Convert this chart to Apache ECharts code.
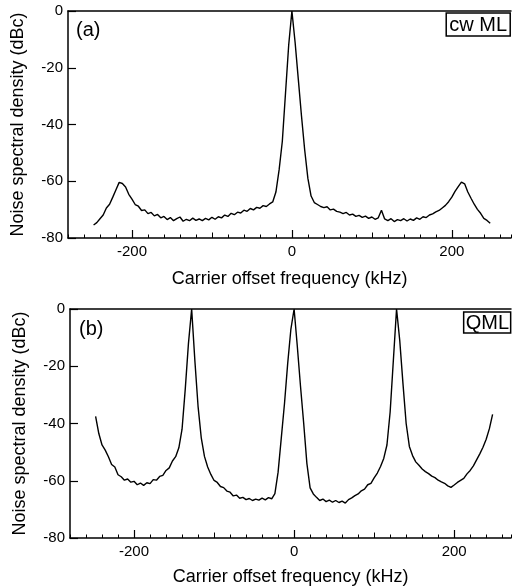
<!DOCTYPE html>
<html>
<head>
<meta charset="utf-8">
<script src="https://cdn.jsdelivr.net/npm/echarts@6/dist/echarts.min.js"></script>
<style>html,body{margin:0;padding:0;background:#fff}#c{width:514px;height:588px}</style>
</head>
<body>
<div id="c"></div>
<script>
// Carrier offset frequency (kHz), shared by both panels
const freq = [-248,-244,-240,-236,-232,-228,-224,-220,-216,-212,-208,-204,-200,-196,-192,-188,-184,-180,-176,-172,-168,-164,-160,-156,-152,-148,-144,-140,-136,-132,-128,-124,-120,-116,-112,-108,-104,-100,-96,-92,-88,-84,-80,-76,-72,-68,-64,-60,-56,-52,-48,-44,-40,-36,-32,-28,-24,-20,-16,-12,-8,-4,0,4,8,12,16,20,24,28,32,36,40,44,48,52,56,60,64,68,72,76,80,84,88,92,96,100,104,108,112,116,120,124,128,132,136,140,144,148,152,156,160,164,168,172,176,180,184,188,192,196,200,204,208,212,216,220,224,228,232,236,240,244,248];
// (a) cw ML noise spectral density (dBc)
const dbA = [-75.4,-74.6,-73.2,-71.9,-69.4,-68.1,-65.6,-63.0,-60.4,-60.8,-62.0,-64.6,-66.3,-68.2,-68.8,-70.3,-70.1,-71.4,-71.0,-72.2,-71.7,-72.9,-72.4,-73.5,-72.8,-73.9,-73.2,-72.6,-74.1,-73.4,-73.9,-73.0,-73.8,-73.3,-73.9,-73.1,-73.6,-72.7,-73.4,-72.5,-72.9,-71.9,-72.4,-71.3,-71.8,-70.9,-71.2,-70.2,-70.6,-69.6,-70.1,-69.2,-69.5,-68.6,-68.9,-68.0,-67.3,-63.8,-56,-46,-29,-12,0,-11,-24,-37,-49,-59,-65.2,-67.5,-68.2,-68.9,-69.3,-69.0,-70.1,-69.8,-70.6,-70.9,-71.4,-71.0,-71.9,-71.6,-72.4,-72.0,-72.7,-72.3,-73.1,-72.6,-73.4,-72.9,-70.2,-73.3,-73.9,-73.2,-74.2,-73.5,-73.9,-73.2,-74.0,-73.3,-73.8,-72.9,-73.4,-72.5,-72.8,-71.9,-71.5,-70.8,-70.3,-69.4,-68.5,-67.2,-65.6,-63.6,-61.9,-60.3,-60.9,-63.8,-66.0,-68.1,-69.9,-71.3,-73.1,-73.8,-74.8];
// (b) QML noise spectral density (dBc)
const dbB = [-37.5,-43.5,-47.5,-49.3,-51.6,-54.3,-55.2,-57.9,-58.6,-59.8,-59.4,-60.5,-60.2,-61.4,-60.8,-61.6,-60.7,-61.0,-59.6,-59.8,-58.5,-58.1,-56.4,-55.5,-53.1,-51.6,-48.5,-42,-28,-12,0,-18,-34,-45,-51.5,-55.2,-57.8,-59.9,-60.6,-62.0,-62.4,-63.6,-64.0,-65.3,-65.0,-66.1,-65.8,-66.6,-66.2,-66.9,-66.4,-66.8,-66.1,-66.7,-65.9,-66.3,-64.5,-57,-45,-33,-19,-7,0,-13,-27,-40,-54,-62.5,-64.6,-65.8,-66.9,-66.4,-67.3,-66.8,-67.5,-66.9,-67.6,-67.1,-67.8,-66.6,-66.0,-65.2,-64.6,-63.5,-62.9,-61.4,-60.9,-59.0,-57.3,-55.0,-52.2,-47.5,-36,-18,0,-11,-26,-40,-48,-51.2,-53.4,-54.6,-55.9,-56.8,-57.5,-58.4,-58.9,-59.8,-60.4,-60.9,-61.8,-62.3,-61.5,-60.6,-59.9,-59.2,-57.6,-56.4,-54.8,-52.7,-50.6,-48.3,-45.5,-41.8,-36.8];
const xLabelValues = [-200, 0, 200];
const xMajorTicks = [-200, 0, 200];
const xMidTicks = [-100, 100];
const yMin = -80, yMax = 0, yStep = 20;
const xMin = -280, xStep = 20;
const panelTags = ['(a)', '(b)'];
const panelNames = ['cw ML', 'QML'];
const xTitle = 'Carrier offset frequency (kHz)';
const yTitle = 'Noise spectral density (dBc)';

const FONT = 'Liberation Sans, Arial, Helvetica, sans-serif';
const black = '#000';
const grids = [
  {left: 68, top: 11, right: 3, height: 227},
  {left: 70, top: 309, right: 3, height: 229}
];
const xMaxes = [274, 271];
const nameGaps = [32, 30];
const xAxis = [], yAxis = [], series = [];
grids.forEach((g, i) => {
  const base = {gridIndex: i, type: 'value', min: xMin, max: xMaxes[i]};
  xAxis.push(Object.assign({}, base, {
    position: 'bottom', interval: xStep,
    axisLine: {show: true, onZero: false, lineStyle: {color: black, width: 1.5}},
    axisTick: {show: true, inside: true, length: 3.5, lineStyle: {color: black, width: 1}},
    axisLabel: {show: true, customValues: xLabelValues, color: black, fontSize: 15, fontFamily: FONT, margin: 6},
    splitLine: {show: false},
    name: xTitle, nameLocation: 'middle', nameGap: nameGaps[i],
    nameTextStyle: {color: black, fontSize: 18, fontFamily: FONT}
  }));
  xAxis.push(Object.assign({}, base, {
    position: 'bottom',
    axisLine: {show: false, onZero: false},
    axisTick: {show: true, inside: true, length: 8, customValues: xMajorTicks, lineStyle: {color: black, width: 1.2}},
    axisLabel: {show: false}, splitLine: {show: false}
  }));
  xAxis.push(Object.assign({}, base, {
    position: 'bottom',
    axisLine: {show: false, onZero: false},
    axisTick: {show: true, inside: true, length: 5.5, customValues: xMidTicks, lineStyle: {color: black, width: 1}},
    axisLabel: {show: false}, splitLine: {show: false}
  }));
  xAxis.push(Object.assign({}, base, {
    position: 'top',
    axisLine: {show: true, onZero: false, lineStyle: {color: black, width: 1.5}},
    axisTick: {show: false}, axisLabel: {show: false}, splitLine: {show: false}
  }));
  yAxis.push({
    gridIndex: i, type: 'value', min: yMin, max: yMax, interval: yStep,
    axisLine: {show: true, onZero: false, lineStyle: {color: black, width: 1.5}},
    axisTick: {show: true, inside: true, length: 8, lineStyle: {color: black, width: 1.2}},
    axisLabel: {color: black, fontSize: 15, fontFamily: FONT, margin: 5},
    splitLine: {show: false},
    name: yTitle, nameLocation: 'middle', nameGap: 41, nameRotate: 90,
    nameTextStyle: {color: black, fontSize: 18, fontFamily: FONT}
  });
  const vals = i === 0 ? dbA : dbB;
  series.push({
    type: 'line', xAxisIndex: i * 4, yAxisIndex: i,
    data: freq.map((f, k) => [f, vals[k]]),
    showSymbol: false, silent: true, animation: false,
    lineStyle: {color: black, width: 1.4}
  });
});

const titles = [
  {text: panelTags[0], left: 71, top: 14},
  {text: panelTags[1], left: 74, top: 313},
  {text: panelNames[0], right: 4, top: 13, padding: [1, 3, 0, 3], borderColor: black, borderWidth: 1.5},
  {text: panelNames[1], right: 3, top: 312, padding: [0, 2, -1, 2], borderColor: black, borderWidth: 1.5}
].map(t => Object.assign({
  textStyle: {color: black, fontSize: 20, fontWeight: 'normal', fontFamily: FONT, lineHeight: 22}
}, t));

const chart = echarts.init(document.getElementById('c'), null, {renderer: 'canvas'});
chart.setOption({
  animation: false,
  backgroundColor: '#fff',
  title: titles,
  grid: grids,
  xAxis: xAxis,
  yAxis: yAxis,
  series: series
});
</script>
</body>
</html>
